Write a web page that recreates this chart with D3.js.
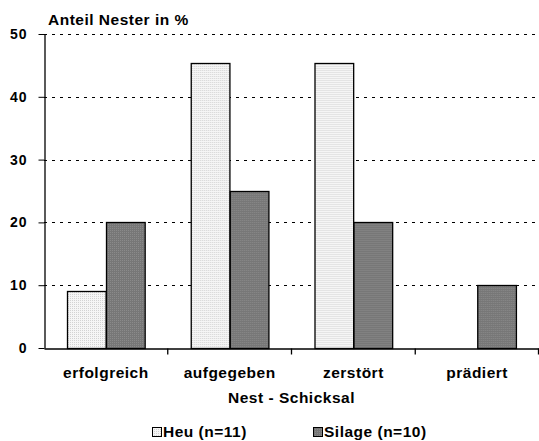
<!DOCTYPE html>
<html>
<head>
<meta charset="utf-8">
<script src="https://cdn.jsdelivr.net/npm/d3@7"></script>
<style>
	body { margin: 0; background: #fff; }
	text { font-family: "Liberation Sans", Arial, sans-serif; font-weight: bold; fill: #000; }
</style>
</head>
<body>
<svg id="chart"></svg>
<script>
// data
const categories = ["erfolgreich", "aufgegeben", "zerstört", "prädiert"];
const seriesNames = ["Heu (n=11)", "Silage (n=10)"];
const heuValues = [9.09, 45.45, 45.45, 0];
const silageValues = [20, 25, 20, 10];
const yTicks = [0, 10, 20, 30, 40, 50];

const width = 539, height = 441;
const margin = { top: 34, right: 0, bottom: 93, left: 44 };
const labelFont = "15.5px";
const labelSpacing = "0.5px";

const svg = d3.select("#chart").attr("width", width).attr("height", height);

// fill patterns: light dotted and dark dotted
const defs = svg.append("defs");
const pLight = defs.append("pattern")
	.attr("id", "pHeu").attr("patternUnits", "userSpaceOnUse")
	.attr("width", 2).attr("height", 2);
pLight.append("rect").attr("width", 2).attr("height", 2).attr("fill", "#f5f5f5");
pLight.append("rect").attr("width", 1).attr("height", 1).attr("fill", "#d2d2d2");
const pDark = defs.append("pattern")
	.attr("id", "pSil").attr("patternUnits", "userSpaceOnUse")
	.attr("width", 2).attr("height", 2);
pDark.append("rect").attr("width", 2).attr("height", 2).attr("fill", "#777");
pDark.append("rect").attr("width", 1).attr("height", 1).attr("fill", "#8a8a8a");

const x0 = d3.scaleBand()
	.domain(categories)
	.range([margin.left, width - margin.right])
	.paddingInner(0)
	.paddingOuter(0);
const x1 = d3.scaleBand()
	.domain(seriesNames)
	.range([0, x0.bandwidth()])
	.paddingOuter(0.6)
	.paddingInner(0);
const y = d3.scaleLinear()
	.domain([0, 50])
	.range([height - margin.bottom, margin.top]);

// dotted gridlines
svg.append("g")
	.selectAll("line")
	.data(yTicks.filter(d => d > 0))
	.join("line")
	.attr("x1", margin.left)
	.attr("x2", width)
	.attr("y1", d => Math.round(y(d)) + 0.5)
	.attr("y2", d => Math.round(y(d)) + 0.5)
	.attr("stroke", "#000")
	.attr("stroke-width", 1)
	.attr("stroke-dasharray", "3,5");

// bars
const rows = categories.map((c, i) => ({ cat: c, vals: [heuValues[i], silageValues[i]] }));
const groups = svg.append("g")
	.selectAll("g")
	.data(rows)
	.join("g")
	.attr("transform", d => `translate(${x0(d.cat)},0)`);
groups.selectAll("rect")
	.data(d => d.vals.map((v, j) => ({ name: seriesNames[j], v, j })))
	.join("rect")
	.filter(d => d.v > 0)
	.attr("x", d => Math.round(x1(d.name)) + 0.5)
	.attr("y", d => Math.round(y(d.v)) + 0.5)
	.attr("width", x1.bandwidth())
	.attr("height", d => Math.round(y(0)) - Math.round(y(d.v)))
	.attr("fill", d => d.j === 0 ? "url(#pHeu)" : "url(#pSil)")
	.attr("stroke", "#000")
	.attr("stroke-width", 1.3);

// y axis
const yAxis = svg.append("g")
	.attr("transform", `translate(${margin.left + 0.5},0)`)
	.call(d3.axisLeft(y).tickValues(yTicks).tickSize(6).tickPadding(11).tickSizeOuter(0));
yAxis.select(".domain").attr("stroke-width", 1.3);
yAxis.selectAll("text")
	.style("font-size", "14px")
	.style("letter-spacing", "1px");

// x axis
const xAxis = svg.append("g")
	.attr("transform", `translate(0,${Math.round(y(0)) + 0.5})`)
	.call(d3.axisBottom(x0).tickSize(0).tickPadding(18));
xAxis.select(".domain").attr("stroke-width", 1.3);
xAxis.selectAll("text")
	.style("font-size", labelFont)
	.style("letter-spacing", labelSpacing);
// boundary ticks between categories
xAxis.append("g")
	.selectAll("line")
	.data(categories.slice(1).concat(["__end"]))
	.join("line")
	.attr("x1", d => d === "__end" ? width - 0.5 : x0(d))
	.attr("x2", d => d === "__end" ? width - 0.5 : x0(d))
	.attr("y1", 0)
	.attr("y2", 6)
	.attr("stroke", "#000")
	.attr("stroke-width", 1.3);

// titles
svg.append("text")
	.attr("x", 48)
	.attr("y", 25)
	.style("font-size", labelFont)
	.style("letter-spacing", labelSpacing)
	.text("Anteil Nester in %");
svg.append("text")
	.attr("x", (margin.left + width) / 2)
	.attr("y", 403)
	.attr("text-anchor", "middle")
	.style("font-size", labelFont)
	.style("letter-spacing", labelSpacing)
	.text("Nest - Schicksal");

// legend
const legendX = [152, 313];
const legend = svg.append("g")
	.selectAll("g")
	.data(seriesNames)
	.join("g")
	.attr("transform", (d, i) => `translate(${legendX[i]},427)`);
legend.append("rect")
	.attr("x", 0.5).attr("y", 0.5)
	.attr("width", 9).attr("height", 9)
	.attr("fill", (d, i) => i === 0 ? "url(#pHeu)" : "url(#pSil)")
	.attr("stroke", "#000")
	.attr("stroke-width", 1);
legend.append("text")
	.attr("x", 11)
	.attr("y", 9.5)
	.style("font-size", labelFont)
	.style("letter-spacing", labelSpacing)
	.text(d => d);
</script>
</body>
</html>
